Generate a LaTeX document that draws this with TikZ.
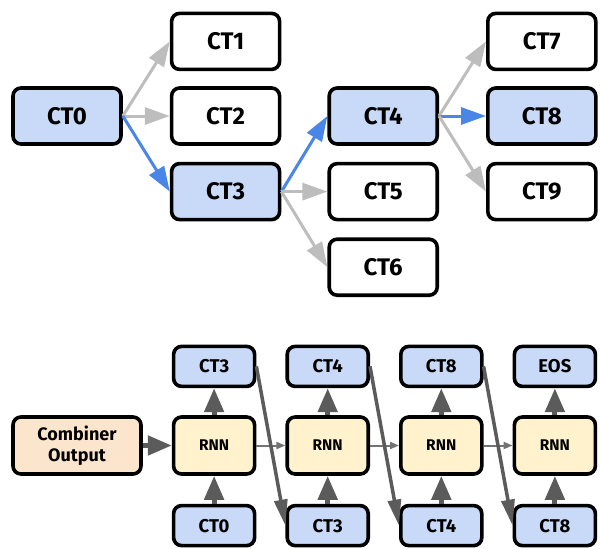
\documentclass[tikz,border=0pt]{standalone}
\usepackage{fontspec}
\setmainfont{Fira Sans}
\usetikzlibrary{positioning, arrows.meta}

\definecolor{tokblue}{HTML}{C9DAF8}
\definecolor{pathblue}{HTML}{4A86E8}
\definecolor{offgray}{HTML}{BDBDBD}
\definecolor{rnnyellow}{HTML}{FFF2CC}
\definecolor{combpeach}{HTML}{FCE5CD}
\definecolor{flowgray}{HTML}{5B5B5B}
\definecolor{stategray}{HTML}{737373}

\begin{document}
\begin{tikzpicture}[
  x=1pt, y=-1pt,
  token/.style={
    draw,
    line width=3.6pt,
    rounded corners=8pt,
    minimum width=108pt,
    minimum height=56pt,
    inner sep=0pt,
    font=\fontsize{24}{28}\selectfont\bfseries,
  },
  chosen/.style={token, fill=tokblue},
  seqtok/.style={
    draw,
    line width=3.6pt,
    rounded corners=8pt,
    fill=tokblue,
    minimum width=81pt,
    minimum height=40pt,
    inner sep=0pt,
    font=\fontsize{18.5}{21}\selectfont\bfseries,
  },
  rnn/.style={seqtok, fill=rnnyellow, minimum height=57pt, font=\fontsize{15.5}{18}\selectfont\bfseries},
  combiner/.style={seqtok, fill=combpeach, minimum width=128pt, minimum height=57pt, align=center,
    font=\fontsize{18}{21}\selectfont\bfseries},
  branch/.style={-{Triangle[length=25pt, width=17pt]}, line width=3pt, offgray},
  picked/.style={branch, pathblue},
  feed/.style={-{Triangle[length=24pt, width=19pt]}, line width=5pt, flowgray},
  carry/.style={-{Triangle[length=9pt, width=7pt]}, line width=2pt, stategray},
  teacher/.style={-{Triangle[length=26pt, width=13pt]}, line width=3.5pt, flowgray},
]
\useasboundingbox (0,0) rectangle (600,549);

% --- beam search tree ---
\node[chosen] (CT0) at (67,116) {CT0};
\node[token, right=47pt of CT0] (CT2) {CT2};
\node[token, above=15pt of CT2] (CT1) {CT1};
\node[chosen, below=16pt of CT2] (CT3) {CT3};
\node[chosen, right=46pt of CT2] (CT4) {CT4};
\node[token, below=16pt of CT4] (CT5) {CT5};
\node[token, below=16pt of CT5] (CT6) {CT6};
\node[chosen, right=47pt of CT4] (CT8) {CT8};
\node[token, above=15pt of CT8] (CT7) {CT7};
\node[token, below=16pt of CT8] (CT9) {CT9};

% pruned branches in gray, kept path in blue
\draw[branch] (CT0.east) -- (CT1.west);
\draw[branch] (CT0.east) -- (CT2.west);
\draw[picked] (CT0.east) -- (CT3.west);
\draw[picked] (CT3.east) -- (CT4.west);
\draw[branch] (CT3.east) -- (CT5.west);
\draw[branch] (CT3.east) -- (CT6.west);
\draw[branch] (CT4.east) -- (CT7.west);
\draw[picked] (CT4.east) -- (CT8.west);
\draw[branch] (CT4.east) -- (CT9.west);

% --- unrolled decoder ---
\node[combiner] (Comb) at (77,445.5) {Combiner\\Output};
\foreach \i/\prev/\out/\in in {1/Comb/CT3/CT0, 2/RNN1/CT4/CT3, 3/RNN2/CT8/CT4, 4/RNN3/EOS/CT8} {
  \node[rnn, right=29pt of \prev] (RNN\i) {RNN};
  \node[seqtok, above=27pt of RNN\i] (Out\i) {\out};
  \node[seqtok, below=28pt of RNN\i] (In\i) {\in};
  \draw[feed] (In\i) -- (RNN\i);
  \draw[feed] (RNN\i) -- (Out\i);
}
\draw[feed] (Comb) -- (RNN1);
% hidden state to the right, previous output fed back in
\foreach \i/\j in {1/2, 2/3, 3/4} {
  \draw[carry] (RNN\i) -- (RNN\j);
  \draw[teacher] (Out\i.east) -- (In\j.west);
}
\end{tikzpicture}
\end{document}
